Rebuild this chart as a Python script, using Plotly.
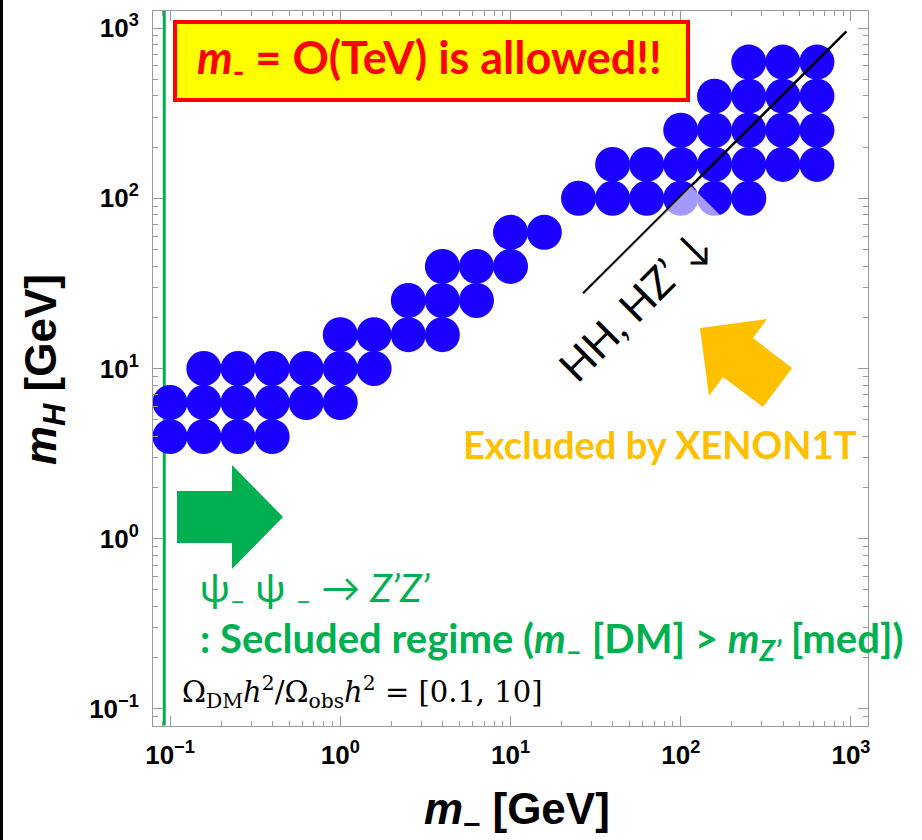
import plotly.graph_objects as go

# Allowed points of the scan: DM mass m_- and scalar mass m_H, both in GeV
m_minus = [
    0.1, 0.158, 0.251, 0.398,
    0.1, 0.158, 0.251, 0.398, 0.631, 1.0,
    0.158, 0.251, 0.398, 0.631, 1.0, 1.58,
    1.0, 1.58, 2.51, 3.98,
    2.51, 3.98, 6.31,
    3.98, 6.31, 10.0,
    10.0, 15.8,
    25.1, 39.8, 63.1, 100.0, 158.0, 251.0,
    39.8, 63.1, 100.0, 158.0, 251.0, 398.0, 631.0,
    100.0, 158.0, 251.0, 398.0, 631.0,
    158.0, 251.0, 398.0, 631.0,
    251.0, 398.0, 631.0,
]
m_h = [
    3.98, 3.98, 3.98, 3.98,
    6.31, 6.31, 6.31, 6.31, 6.31, 6.31,
    10.0, 10.0, 10.0, 10.0, 10.0, 10.0,
    15.8, 15.8, 15.8, 15.8,
    25.1, 25.1, 25.1,
    39.8, 39.8, 39.8,
    63.1, 63.1,
    100.0, 100.0, 100.0, 100.0, 100.0, 100.0,
    158.0, 158.0, 158.0, 158.0, 158.0, 158.0, 158.0,
    251.0, 251.0, 251.0, 251.0, 251.0,
    398.0, 398.0, 398.0, 398.0,
    631.0, 631.0, 631.0,
]

# Kinematic threshold m_H = m_- (HH, HZ' channels open below it)
threshold_x = [26.7, 940.0]
threshold_y = [27.6, 955.0]

# Lower edge of the secluded regime
secluded_x = [0.0925, 0.0925]
secluded_y = [0.08, 1330.0]

major_vals = [0.1, 1, 10, 100, 1000]
major_text = ["10<sup>\u22121</sup>", "10<sup>0</sup>", "10<sup>1</sup>",
              "10<sup>2</sup>", "10<sup>3</sup>"]

W, H = 922, 840
L, R, T, B = 153, 54, 11, 114
PW, PH = W - L - R, H - T - B


def px(x):
    return (x - L) / PW


def py(y):
    return (H - B - y) / PH


GREEN = "#00B050"
ORANGE = "#FFC000"
BLUE = "#1A00FF"
AXIS = "#9a9a9a"
CAL = "Lato"

minor_vals = [m * 10 ** e for e in range(-2, 4) for m in range(2, 10)]

fig = go.Figure()
fig.add_trace(go.Scatter(
    x=secluded_x, y=secluded_y, mode="lines",
    line=dict(color=GREEN, width=3), cliponaxis=False, hoverinfo="skip"))
fig.add_trace(go.Scatter(
    x=m_minus, y=m_h, mode="markers",
    marker=dict(size=35, color=BLUE, line=dict(width=0))))
fig.add_trace(go.Scatter(
    x=threshold_x, y=threshold_y, mode="lines",
    line=dict(color="black", width=2.5)))

axis_common = dict(
    type="log", range=[-1.1, 3.1],
    tickmode="array", tickvals=major_vals, ticktext=major_text,
    ticks="inside", ticklen=10, tickcolor=AXIS, tickwidth=1,
    showline=True, linecolor=AXIS, linewidth=1, mirror="allticks",
    showgrid=False, zeroline=False,
    tickfont=dict(family="Liberation Sans", size=26, color="black", weight="bold"),
    minor=dict(tickmode="array", tickvals=minor_vals, ticks="inside",
               ticklen=5, tickcolor=AXIS, showgrid=False),
)
fig.update_xaxes(**axis_common, ticklabelstandoff=6)
fig.update_yaxes(**axis_common, ticklabelstandoff=8)

shapes = []
# left page edge
shapes.append(dict(type="rect", xref="paper", yref="paper",
                   x0=px(0), x1=px(3), y0=py(840), y1=py(0),
                   fillcolor="black", line=dict(width=0), layer="above"))
# highlighted headline box
shapes.append(dict(type="rect", xref="paper", yref="paper",
                   x0=px(175), x1=px(688), y0=py(100), y1=py(22),
                   fillcolor="#FFFF00", line=dict(color="#FF0000", width=4)))


def poly(points, color):
    d = "M " + " L ".join(f"{px(a):.5f},{py(b):.5f}" for a, b in points) + " Z"
    return dict(type="path", xref="paper", yref="paper", path=d,
                fillcolor=color, line=dict(width=0))


# green block arrow pointing right
shapes.append(poly([(177, 491), (232, 491), (232, 465), (283, 517),
                    (232, 569), (232, 543), (177, 543)], GREEN))
# orange block arrow pointing up-left
shapes.append(poly([(700, 328), (767, 319), (753, 338), (792, 368),
                    (763, 407), (723, 377), (709, 396)], ORANGE))

annotations = [
    dict(text="<b><i>m</i><sub>-</sub> = O(TeV) is allowed!!</b>",
         x=px(429), y=py(60), font=dict(family=CAL, size=45, color="#FF0000")),
    dict(text="HH, HZ\u2019 \u2193", x=px(634), y=py(305), textangle=-45,
         width=248, height=86, borderpad=0, bgcolor="rgba(255,255,255,0.6)",
         font=dict(family=CAL, size=42, color="black")),
    dict(text="<b>Excluded by XENON1T</b>", x=px(660), y=py(444),
         font=dict(family=CAL, size=38, color=ORANGE)),
    dict(text="\u03c8<sub>\u2013</sub> \u03c8 <sub>\u2013</sub> \u2192 <i>Z\u2019Z\u2019</i>",
         x=px(198), y=py(590), xanchor="left",
         font=dict(family=CAL, size=39, color=GREEN)),
    dict(text="<b>: Secluded regime (<i>m</i><sub>\u2013</sub> [DM] &gt; "
              "<i>m</i><sub><i>Z\u2019</i></sub> [med])</b>",
         x=px(198), y=py(640), xanchor="left",
         font=dict(family=CAL, size=40, color=GREEN)),
    dict(text="\u03a9<sub>DM</sub><i>h</i><sup>2</sup>/\u03a9<sub>obs</sub><i>h</i><sup>2</sup> = [0.1, 10]",
         x=px(362), y=py(692),
         font=dict(family="DejaVu Serif", size=29, color="black")),
    dict(text="<b><i>m<sub>H</sub></i> [GeV]</b>", x=px(44), y=py(370), textangle=-90,
         font=dict(family="Liberation Sans", size=44, color="black")),
    dict(text="<b><i>m</i><sub>\u2013</sub> [GeV]</b>", x=px(517), y=py(812),
         font=dict(family="Liberation Sans", size=44, color="black")),
]
for a in annotations:
    a.setdefault("xref", "paper")
    a.setdefault("yref", "paper")
    a.setdefault("showarrow", False)
    a.setdefault("xanchor", "center")
    a.setdefault("yanchor", "middle")

fig.update_layout(
    width=W, height=H, margin=dict(l=L, r=R, t=T, b=B),
    paper_bgcolor="white", plot_bgcolor="white",
    showlegend=False, shapes=shapes, annotations=annotations,
)

fig.write_html("out.html")
